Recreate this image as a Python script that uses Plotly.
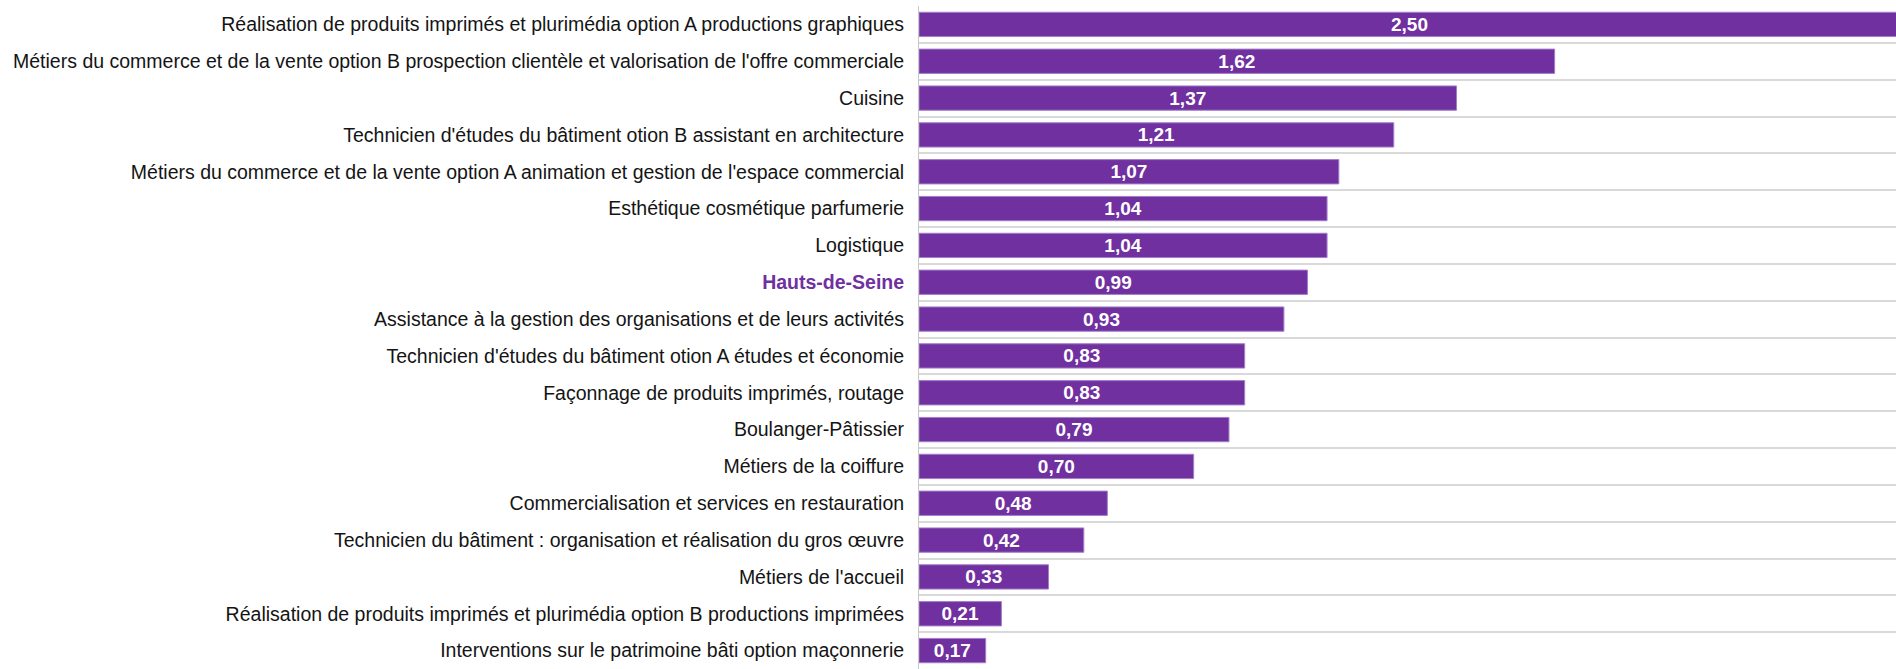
import plotly.graph_objects as go

# formations, du plus haut au plus bas
formations = [
    "Réalisation de produits imprimés et plurimédia option A productions graphiques",
    "Métiers du commerce et de la vente option B prospection clientèle et valorisation de l'offre commerciale",
    "Cuisine",
    "Technicien d'études du bâtiment otion B assistant en architecture",
    "Métiers du commerce et de la vente option A animation et gestion de l'espace commercial",
    "Esthétique cosmétique parfumerie",
    "Logistique",
    "Hauts-de-Seine",
    "Assistance à la gestion des organisations et de leurs activités",
    "Technicien d'études du bâtiment otion A études et économie",
    "Façonnage de produits imprimés, routage",
    "Boulanger-Pâtissier",
    "Métiers de la coiffure",
    "Commercialisation et services en restauration",
    "Technicien du bâtiment : organisation et réalisation du gros œuvre",
    "Métiers de l'accueil",
    "Réalisation de produits imprimés et plurimédia option B productions imprimées",
    "Interventions sur le patrimoine bâti option maçonnerie",
]
valeurs = [2.50, 1.62, 1.37, 1.21, 1.07, 1.04, 1.04, 0.99, 0.93, 0.83, 0.83,
           0.79, 0.70, 0.48, 0.42, 0.33, 0.21, 0.17]
reference = "Hauts-de-Seine"

violet = "#7030A0"

ticktext = [
    f"<b><span style='color:{violet}'>{f}</span></b>" if f == reference else f
    for f in formations
]

fig = go.Figure(go.Bar(
    x=valeurs,
    y=formations,
    orientation="h",
    marker=dict(color=violet, line=dict(width=1, color="#a27fc8")),
    width=0.66,
    texttemplate="%{x:.2f}",
    textposition="inside",
    insidetextanchor="middle",
    constraintext="none",
    textfont=dict(family="Liberation Sans, Arial", size=19, color="white", weight="bold"),
    cliponaxis=True,
))

fig.update_layout(
    width=1896,
    height=669,
    margin=dict(l=919, r=0, t=6, b=0),
    paper_bgcolor="white",
    plot_bgcolor="white",
    separators=", ",
    showlegend=False,
    uniformtext=dict(minsize=19, mode="show"),
    font=dict(family="Liberation Sans, Arial", size=19.5, color="#141414"),
    xaxis=dict(range=[0, 2.49], visible=False),
    yaxis=dict(
        type="category",
        range=[17.5, -0.5],
        tickmode="array",
        tickvals=formations,
        ticktext=ticktext,
        tickson="boundaries",
        ticks="",
        ticklabelstandoff=10,
        showgrid=True,
        gridcolor="#d9d9d9",
        gridwidth=2,
        showline=True,
        linecolor="#c8c8c8",
        linewidth=1,
        zeroline=False,
    ),
)

# la page ajoute une marge de 8 px au body par défaut
fig.write_html("out.html", config={"displayModeBar": False},
               post_script="document.body.style.margin='0px';")
